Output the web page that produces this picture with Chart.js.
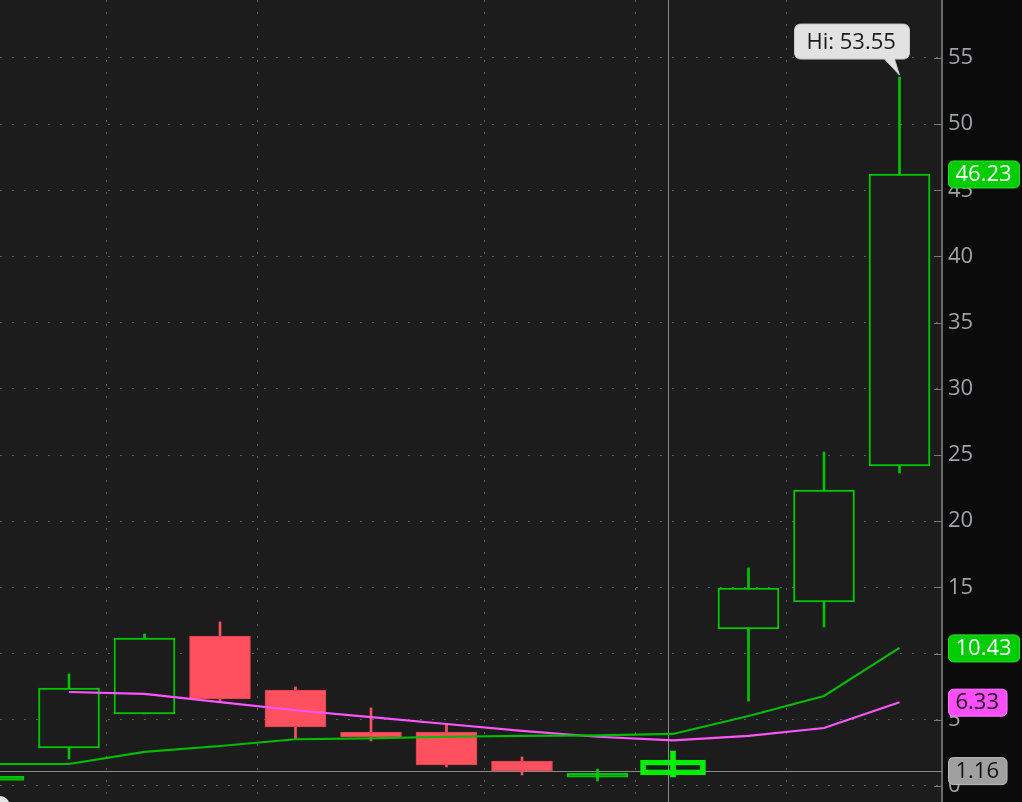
<!DOCTYPE html>
<html><head><meta charset="utf-8">
<script src="https://cdn.jsdelivr.net/npm/chart.js@4.4.0/dist/chart.umd.min.js"></script>
<style>
html,body{margin:0;padding:0;background:#0b0b0b;overflow:hidden}
#wrap{position:relative;width:1022px;height:802px;overflow:hidden}
canvas{display:block}
#icon{position:absolute;left:-10px;top:796px;width:20px;height:20px;border-radius:50%;background:#e6e6e6}
</style></head><body>
<div id="wrap"><canvas id="c" width="1022" height="802"></canvas><div id="icon"></div></div>
<script>
// ---- data ----
const candleIndex = [0,1,2,3,4,5,6,7,8,9,10,11,12];
const opens  = [0.42, 2.87, 5.44, 11.33, 7.25, 4.08, 4.08, 1.89, 0.66, 0.83, 11.86, 13.90, 24.17];
const highs  = [0.48, 8.46, 11.48, 12.39, 7.48, 5.89, 4.68, 2.19, 1.28, 2.64, 16.47, 25.23, 53.55];
const lows   = [0.42, 2.04, 5.44, 6.34, 3.55, 3.40, 1.44, 0.83, 0.38, 0.68, 6.42, 12.01, 23.64];
const closes = [0.48, 7.40, 11.18, 6.57, 4.46, 3.70, 1.59, 1.13, 0.70, 1.96, 14.95, 22.36, 46.23];
const maGreen   = [1.66, 1.66, 2.57, 3.02, 3.53, 3.60, 3.72, 3.78, 3.83, 3.93, 5.29, 6.80, 10.43];
const maMagenta = [null, 7.10, 6.95, 6.34, 5.72, 5.20, 4.68, 4.16, 3.72, 3.45, 3.78, 4.38, 6.33];
const yTickValues = [0,5,10,15,20,25,30,35,40,45,50,55];
const sessionSeparators = [1.5, 3.5, 6.5, 8.5, 10.5];
const selectedIndex = 9;
const crosshairX = 8.94;
const crosshairY = 1.16;
const tagValues = [46.23, 10.43, 6.33, 1.16];
const tagLabels = ['46.23', '10.43', '6.33', '1.16'];
const highLabel = 'Hi: 53.55';

// ---- styles ----
const PLOT_BG = '#1c1c1c', AXIS_BG = '#0b0b0b';
const UP = '#00c400', DOWN = '#ff5060', DOWN_EDGE = '#d8404e', SEL = '#00ee00';
const GRID = '#5c5c5c';
const FONT = '"Open Sans", "DejaVu Sans", sans-serif';
const FS = 22;
const tagBg = ['#00cc00', '#00cc00', '#ff4cff', '#a0a0a0'];
const tagFg = ['#ffffff', '#ffffff', '#101010', '#101010'];
const tagEdge = ['#30e030', '#30e030', '#ff80ff', '#bdbdbd'];

const isUp = i => closes[i] >= opens[i];
const flat = i => Math.abs(closes[i] - opens[i]) < 0.2;
const normal = candleIndex.filter(i => i !== selectedIndex);

const bodyData = normal.map(i => ({x: i, y: [opens[i], closes[i]]}));
const wickData = normal.map(i => ({x: i, y: [lows[i], highs[i]]}));
const selBody = [{x: selectedIndex, y: [opens[selectedIndex], closes[selectedIndex]]}];
const selWick = [{x: selectedIndex, y: [lows[selectedIndex], highs[selectedIndex]]}];

function rr(ctx, x, y, w, h, r) {
  ctx.beginPath();
  ctx.moveTo(x + r, y);
  ctx.lineTo(x + w - r, y); ctx.arcTo(x + w, y, x + w, y + r, r);
  ctx.lineTo(x + w, y + h - r); ctx.arcTo(x + w, y + h, x + w - r, y + h, r);
  ctx.lineTo(x + r, y + h); ctx.arcTo(x, y + h, x, y + h - r, r);
  ctx.lineTo(x, y + r); ctx.arcTo(x, y, x + r, y, r);
  ctx.closePath();
}

const bgPlugin = {
  id: 'bg',
  beforeDraw(chart) {
    const {ctx, chartArea: a} = chart;
    ctx.save();
    ctx.fillStyle = AXIS_BG; ctx.fillRect(0, 0, chart.width, chart.height);
    ctx.fillStyle = PLOT_BG; ctx.fillRect(a.left, a.top, a.right - a.left, a.bottom - a.top);
    ctx.restore();
  },
  beforeDatasetsDraw(chart) {
    const {ctx, chartArea: a, scales: {x, y}} = chart;
    ctx.save();
    ctx.strokeStyle = '#777'; ctx.lineWidth = 1;
    yTickValues.forEach(v => {
      const py = Math.round(y.getPixelForValue(v)) + 0.5;
      ctx.beginPath(); ctx.moveTo(a.right - 8, py); ctx.lineTo(a.right, py); ctx.stroke();
    });
    ctx.strokeStyle = '#8a8a8a';
    const cx = Math.round(x.getPixelForValue(crosshairX)) + 0.5;
    const cy = Math.round(y.getPixelForValue(crosshairY)) + 0.5;
    ctx.beginPath(); ctx.moveTo(cx, a.top); ctx.lineTo(cx, a.bottom); ctx.stroke();
    ctx.beginPath(); ctx.moveTo(a.left, cy); ctx.lineTo(a.right, cy); ctx.stroke();
    ctx.restore();
  },
  afterDraw(chart) {
    const {ctx, chartArea: a, scales: {x, y}} = chart;
    ctx.save();
    ctx.font = FS + 'px ' + FONT;
    ctx.textBaseline = 'middle';
    tagValues.forEach((v, k) => {
      const py = y.getPixelForValue(v);
      const tw = ctx.measureText(tagLabels[k]).width;
      const bx = a.right + 6, bw = tw + 15, bh = 27, by = py - bh / 2;
      rr(ctx, bx + 0.5, by + 0.5, bw, bh, 5);
      ctx.fillStyle = tagBg[k]; ctx.fill();
      ctx.strokeStyle = tagEdge[k]; ctx.lineWidth = 1; ctx.stroke();
      ctx.fillStyle = tagFg[k];
      ctx.textAlign = 'left';
      ctx.fillText(tagLabels[k], bx + 7.5, py + 1);
    });
    const last = candleIndex[candleIndex.length - 1];
    const ax = x.getPixelForValue(last), ay = y.getPixelForValue(highs[last]);
    const left = ax - 105, right = ax + 10, top = ay - 53, bottom = ay - 18;
    ctx.beginPath();
    const r = 6;
    ctx.moveTo(left + r, top);
    ctx.lineTo(right - r, top); ctx.arcTo(right, top, right, top + r, r);
    ctx.lineTo(right, bottom - r); ctx.arcTo(right, bottom, right - r, bottom, r);
    ctx.lineTo(ax - 5, bottom); ctx.lineTo(ax, ay - 2); ctx.lineTo(ax - 15, bottom);
    ctx.lineTo(left + r, bottom); ctx.arcTo(left, bottom, left, bottom - r, r);
    ctx.lineTo(left, top + r); ctx.arcTo(left, top, left + r, top, r);
    ctx.closePath();
    ctx.fillStyle = '#e2e2e2'; ctx.fill();
    ctx.strokeStyle = '#c8c8c8'; ctx.lineWidth = 1; ctx.stroke();
    ctx.fillStyle = '#1a1a1a';
    ctx.fillText(highLabel, left + 12, (top + bottom) / 2 + 1);
    ctx.restore();
  }
};

new Chart(document.getElementById('c'), {
  data: {
    datasets: [
      { type: 'line', data: maGreen.map((v, i) => ({x: i, y: v})), borderColor: '#00bb00', borderWidth: 2.2,
        pointRadius: 0, tension: 0, order: 0 },
      { type: 'line', data: candleIndex.filter(i => maMagenta[i] !== null).map(i => ({x: i, y: maMagenta[i]})),
        borderColor: '#ff55ff', borderWidth: 2.2, pointRadius: 0, tension: 0, order: 0 },
      { type: 'bar', data: bodyData, grouped: false, barThickness: 61, minBarLength: 4, borderSkipped: false,
        backgroundColor: normal.map(i => flat(i) ? UP : (isUp(i) ? PLOT_BG : DOWN)),
        borderColor: normal.map(i => isUp(i) ? UP : DOWN_EDGE),
        borderWidth: normal.map(i => isUp(i) ? 2 : 1), order: 2 },
      { type: 'bar', data: wickData, grouped: false, barThickness: 2, borderWidth: 0,
        backgroundColor: normal.map(i => isUp(i) ? UP : DOWN), order: 3 },
      { type: 'bar', data: selBody, grouped: false, barThickness: 65, borderSkipped: false,
        backgroundColor: 'rgba(0,0,0,0)', borderColor: SEL, borderWidth: 5, order: 1 },
      { type: 'bar', data: selWick, grouped: false, barThickness: 5, borderWidth: 0,
        backgroundColor: SEL, order: 3 }
    ]
  },
  options: {
    responsive: false, animation: false, devicePixelRatio: 1,
    layout: { padding: 0 },
    plugins: { legend: { display: false }, tooltip: { enabled: false } },
    scales: {
      x: {
        type: 'linear', min: 0.086, max: 12.563, offset: false,
        afterBuildTicks: s => { s.ticks = sessionSeparators.map(v => ({value: v})); },
        afterFit: s => { s.height = 0; s.paddingLeft = 0; s.paddingRight = 0; s.paddingTop = 0; s.paddingBottom = 0; },
        ticks: { display: false },
        grid: { color: GRID, lineWidth: 1, drawTicks: false, offset: false },
        border: { display: false, dash: [2, 10] }
      },
      y: {
        position: 'right', min: -1.21, max: 59.37,
        afterBuildTicks: s => { s.ticks = yTickValues.map(v => ({value: v})); },
        afterFit: s => { s.width = 80; s.paddingTop = 0; s.paddingBottom = 0; },
        ticks: { color: '#a0a4a8', padding: 6, font: { family: FONT, size: FS }, callback: v => String(v) },
        grid: { color: GRID, lineWidth: 1, drawTicks: false },
        border: { display: true, color: '#6a6a6a', width: 2, dash: [2, 10] }
      }
    }
  },
  plugins: [bgPlugin]
});
</script>
</body></html>
